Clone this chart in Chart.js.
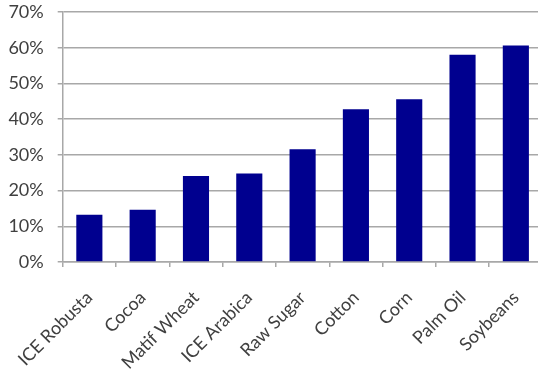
<!DOCTYPE html>
<html>
<head>
<meta charset="utf-8">
<script src="https://cdn.jsdelivr.net/npm/chart.js@4"></script>
<style>
  html, body { margin: 0; padding: 0; background: #fff; overflow: hidden; }
  #wrap { width: 548px; height: 372px; }
</style>
</head>
<body>
<div id="wrap"><canvas id="chart" width="548" height="372"></canvas></div>
<script>
const categories = ['ICE Robusta', 'Cocoa', 'Matif Wheat', 'ICE Arabica', 'Raw Sugar', 'Cotton', 'Corn', 'Palm Oil', 'Soybeans'];
const values = [13.2, 14.6, 24.1, 24.8, 31.6, 42.8, 45.6, 58.0, 60.6];
const yTicks = [0, 10, 20, 30, 40, 50, 60, 70];

const textColor = '#404040';
const lineColor = '#a8a8a8';
const font = { family: 'Lato', size: 18 };

new Chart(document.getElementById('chart'), {
  type: 'bar',
  data: {
    labels: categories,
    datasets: [{
      data: values,
      backgroundColor: '#00008f',
      borderWidth: 0,
      categoryPercentage: 1,
      barPercentage: 0.49
    }]
  },
  options: {
    responsive: false,
    animation: false,
    layout: { padding: { top: 12, right: 5.5, left: 0, bottom: 0 } },
    plugins: {
      legend: { display: false },
      tooltip: { enabled: false }
    },
    scales: {
      x: {
        grid: { drawOnChartArea: false, drawTicks: true, tickLength: 5, color: lineColor, lineWidth: 1.5 },
        border: { color: lineColor, width: 1.5 },
        ticks: { color: textColor, font: font, minRotation: 45, maxRotation: 45, padding: 20 },
        afterFit: function (axis) {
          axis.height = 110;
          axis.paddingLeft = 0;
          axis.paddingRight = 0;
        }
      },
      y: {
        min: 0,
        max: 70,
        afterBuildTicks: function (axis) { axis.ticks = yTicks.map(v => ({ value: v })); },
        grid: { color: lineColor, lineWidth: 1.5, tickLength: 5 },
        border: { color: lineColor, width: 1.5 },
        ticks: { color: textColor, font: font, padding: 14, callback: v => v + '%' },
        afterFit: function (axis) {
          // the tick padding would otherwise push the plot top down
          axis.width = 62.7;
          axis.paddingTop = 0;
          axis.paddingBottom = 0;
        }
      }
    }
  }
});
</script>
</body>
</html>
